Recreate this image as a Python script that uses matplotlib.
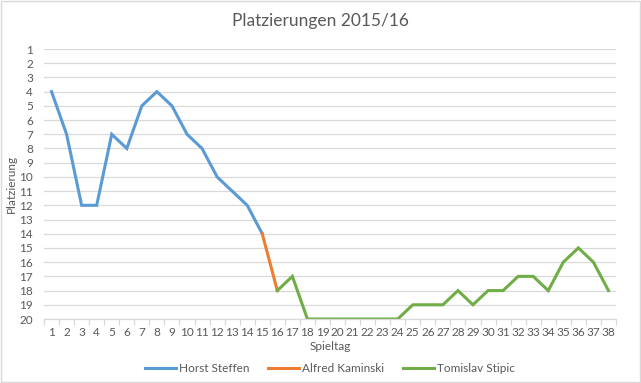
import matplotlib
matplotlib.use("Agg")
import matplotlib.pyplot as plt
from matplotlib.patches import Rectangle

# ─── Daten ──────────────────────────────────────────────────────────────────
spieltage = list(range(1, 39))

steffen_tage = list(range(1, 16))
steffen_platz = [4, 7, 12, 12, 7, 8, 5, 4, 5, 7, 8, 10, 11, 12, 14]

kaminski_tage = [15, 16]
kaminski_platz = [14, 18]

stipic_tage = list(range(16, 39))
stipic_platz = [18, 17, 20, 20, 20, 20, 20, 20, 20, 19, 19, 19, 18, 19,
                18, 18, 17, 17, 18, 16, 15, 16, 18]

platz_ticks = list(range(1, 21))

# ─── Stil ───────────────────────────────────────────────────────────────────
C_BLAU = "#5B9BD5"
C_ORANGE = "#ED7D31"
C_GRUEN = "#70AD47"
C_GRID = "#d9d9d9"
C_TEXT = "#595959"

plt.rcParams["font.family"] = ["Lato", "DejaVu Sans"]

fig = plt.figure(figsize=(6.41, 3.83), dpi=100)
ax = fig.add_axes([44 / 641, 1 - 319 / 383, (616 - 44) / 641, (319 - 49) / 383])

ax.plot(steffen_tage, steffen_platz, color=C_BLAU, lw=2.2, label="Horst Steffen",
        solid_joinstyle="miter")
ax.plot(kaminski_tage, kaminski_platz, color=C_ORANGE, lw=2.2, label="Alfred Kaminski")
ax.plot(stipic_tage, stipic_platz, color=C_GRUEN, lw=2.2, label="Tomislav Stipic",
        solid_joinstyle="miter")

ax.set_xlim(0.5, 38.5)
ax.set_ylim(20, 1)
ax.set_yticks(platz_ticks)
ax.set_xticks(spieltage)
ax.set_xticks([t + 0.5 for t in range(0, 39)], minor=True)
ax.grid(True, axis="y", color=C_GRID, lw=0.9)
ax.set_axisbelow(True)

for s in ["top", "right", "left"]:
    ax.spines[s].set_visible(False)
ax.spines["bottom"].set_color(C_GRID)
ax.spines["bottom"].set_linewidth(0.9)

ax.tick_params(axis="y", length=0, labelsize=8.5, colors=C_TEXT, pad=8)
ax.tick_params(axis="x", which="major", length=0, labelsize=8.5, colors=C_TEXT, pad=6)
ax.tick_params(axis="x", which="minor", length=4, color=C_GRID, width=0.9)

ax.set_ylabel("Platzierung", color=C_TEXT, fontsize=8.5)
ax.set_xlabel("Spieltag", color=C_TEXT, fontsize=8.5, labelpad=2)
ax.yaxis.set_label_coords(-0.047, 0.5)

fig.suptitle("Platzierungen 2015/16", x=0.5, y=0.965, fontsize=12.5, color=C_TEXT)

leg = ax.legend(loc="upper center", bbox_to_anchor=(0.5, -0.125), ncol=3,
                frameon=False, fontsize=8.5, handlelength=2.6, handletextpad=0.25,
                columnspacing=1.6)
for t in leg.get_texts():
    t.set_color(C_TEXT)

fig.patches.append(Rectangle((0.002, 0.003), 0.996, 0.994, transform=fig.transFigure,
                             fill=False, edgecolor="#d9d9d9", lw=1))

fig.savefig("out.png", dpi=100)
